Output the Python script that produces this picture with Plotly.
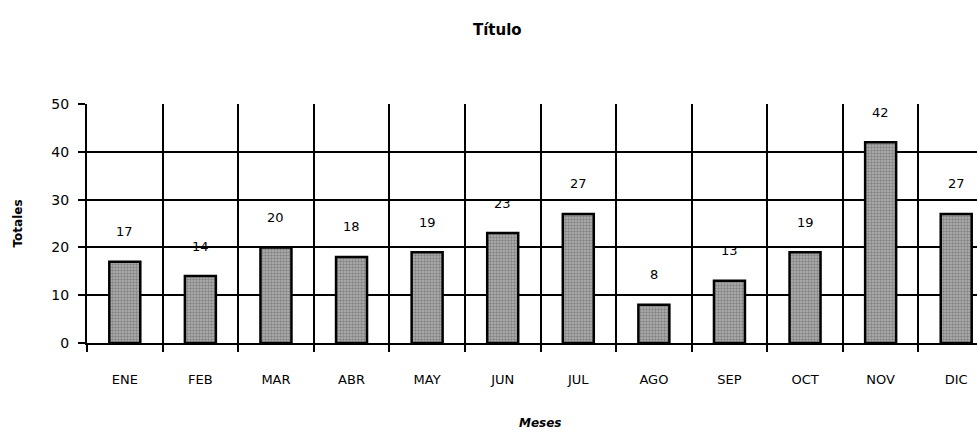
import plotly.graph_objects as go

months = ["ENE", "FEB", "MAR", "ABR", "MAY", "JUN", "JUL", "AGO", "SEP", "OCT", "NOV", "DIC"]
totals = [17, 14, 20, 18, 19, 23, 27, 8, 13, 19, 42, 27]
y_ticks = [0, 10, 20, 30, 40, 50]

FONT = "DejaVu Sans"

fig = go.Figure()
fig.add_trace(go.Bar(
    x=months, y=totals, width=0.41,
    marker=dict(
        color="#b0b0b0",
        line=dict(color="black", width=2.5),
        pattern=dict(shape=".", fgcolor="#505050", bgcolor="#b4b4b4", size=3, solidity=0.5),
    ),
    hoverinfo="x+y",
))

for m, v in zip(months, totals):
    fig.add_annotation(x=m, y=v, text=str(v), showarrow=False, yshift=30,
                       font=dict(family=FONT, size=13, color="black"))

fig.add_annotation(x=5.5, xref="x", y=-80 / 239, yref="paper", yanchor="middle",
                   text="<b><i>Meses</i></b>", showarrow=False,
                   font=dict(family=FONT, size=12, color="black"))

fig.update_layout(
    width=977, height=432,
    margin=dict(l=87, r=0, t=104, b=89),
    paper_bgcolor="white", plot_bgcolor="white",
    showlegend=False,
    bargap=0.59,
    title=dict(text="<b>Título</b>", x=0.509, xref="container", xanchor="center",
               y=1 - 30 / 432, yref="container", yanchor="middle",
               font=dict(family=FONT, size=15, color="black")),
    font=dict(family=FONT, color="black"),
    xaxis=dict(
        range=[-0.5, 11.275], automargin=False,
        tickson="boundaries", ticks="outside", ticklen=7, tickwidth=1.5, tickcolor="black",
        showgrid=True, gridcolor="black", gridwidth=2,
        showline=True, linecolor="black", linewidth=2,
        tickfont=dict(family=FONT, size=13, color="black"),
        ticklabelstandoff=23,
    ),
    yaxis=dict(
        range=[0, 50], tickvals=y_ticks, automargin=False,
        ticks="outside", ticklen=7, tickwidth=1.5, tickcolor="black",
        showgrid=True, gridcolor="black", gridwidth=2,
        showline=True, linecolor="black", linewidth=2,
        zeroline=False,
        tickfont=dict(family=FONT, size=14, color="black"),
        ticklabelstandoff=6,
        title=dict(text="<b>Totales</b>", font=dict(family=FONT, size=12, color="black"), standoff=26),
    ),
)

fig.write_html("out.html", config={"displayModeBar": False},
               post_script="document.body.style.margin='0';document.body.style.overflow='hidden';")
